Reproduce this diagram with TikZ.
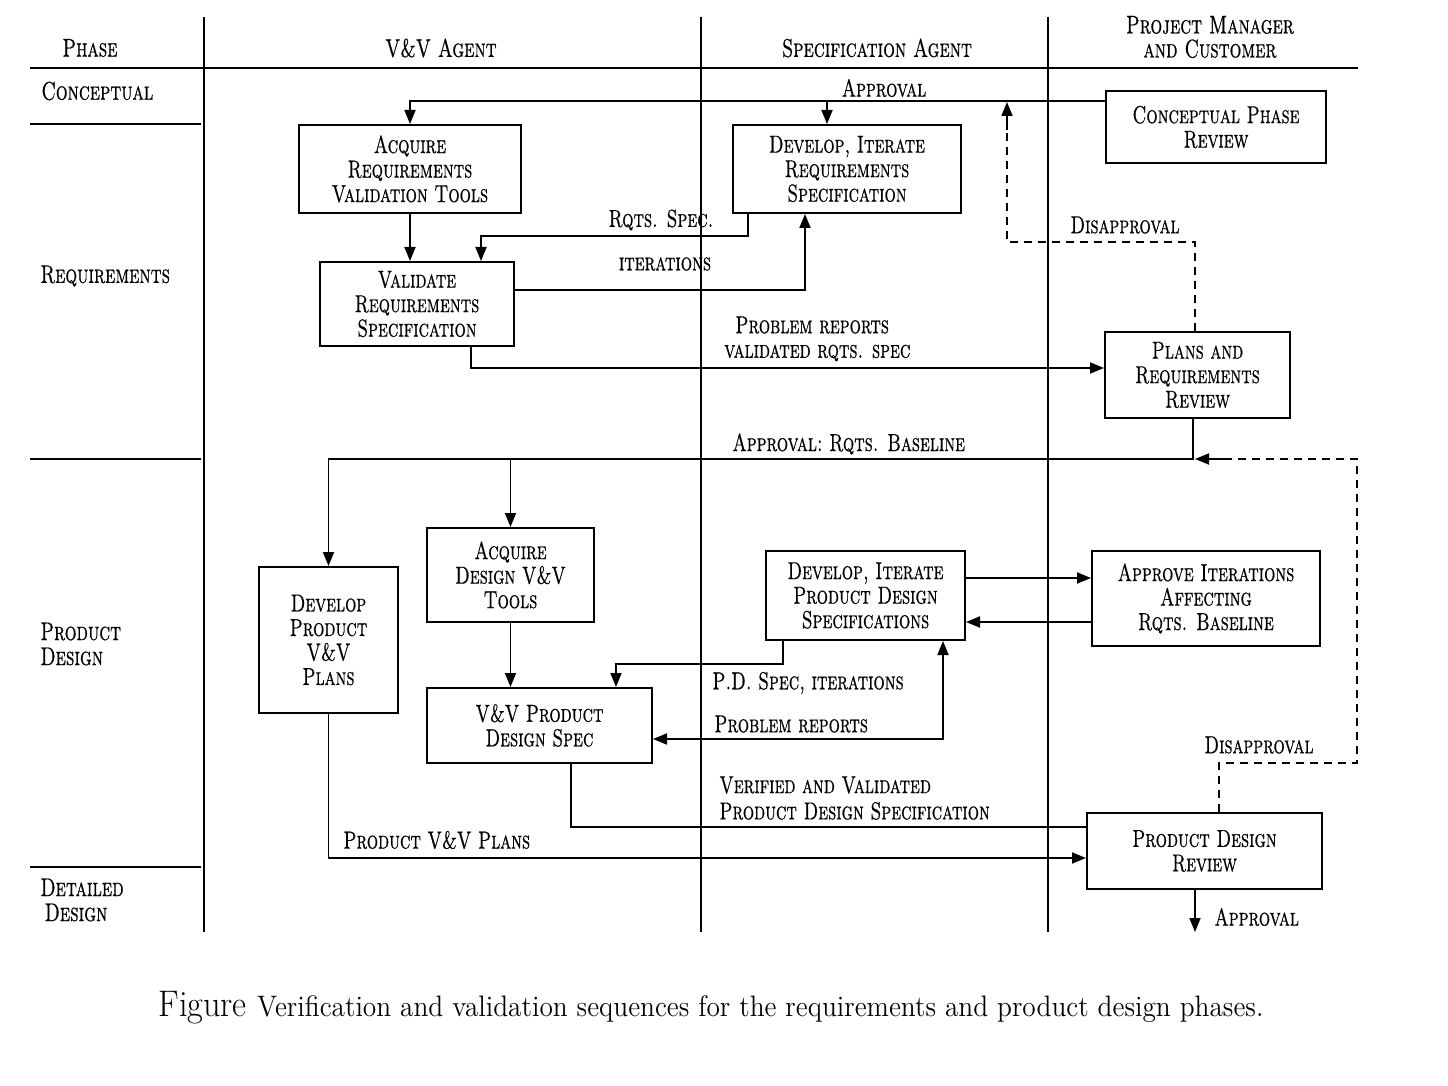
\documentclass[tikz,border=0pt]{standalone}
\usepackage{fontspec}
\newfontfamily\dg{lmroman10-regular.otf}[FakeStretch=0.72, FakeBold=0.6, SmallCapsFont=lmromancaps10-regular.otf, SmallCapsFeatures={FakeStretch=0.72, FakeBold=0.6}]
\usetikzlibrary{arrows.meta}
\tikzset{
  grid/.style={line width=1pt},
  box/.style={draw, line width=1pt, inner sep=0pt, align=center, font={\dg\fontsize{12.3}{12.25}\selectfont\scshape}},
  lbl/.style={inner sep=0pt, font={\dg\fontsize{12.3}{12.25}\selectfont\scshape}},
  hdr/.style={inner sep=0pt, align=center, font={\dg\fontsize{12.8}{12}\selectfont\scshape}},
  phs/.style={inner sep=0pt, align=left, anchor=west, font={\dg\fontsize{12.8}{12.5}\selectfont\scshape}},
  con/.style={line width=0.9pt},
  arr/.style={con, -{Triangle[length=7pt,width=5.5pt]}},
  barr/.style={con, {Triangle[length=7pt,width=5.5pt]}-{Triangle[length=7pt,width=5.5pt]}},
  dsh/.style={con, dash pattern=on 4pt off 3pt},
}
\begin{document}
\begin{tikzpicture}[x=0.5pt,y=-0.5pt]
\useasboundingbox (0,0) rectangle (1448,1086);
% grid
\draw[grid] (204,17) -- (204,932);
\draw[grid] (701,17) -- (701,932);
\draw[grid] (1048,17) -- (1048,932);
\draw[grid] (30,68) -- (1358,68);
\draw[grid] (30,124) -- (201,124);
\draw[grid] (30,459) -- (201,459);
\draw[grid] (30,867) -- (201,867);
% headers
\node[hdr] (hphase) at (90,48) {Phase};
\node[hdr] (hvv) at (441,48) {V\&V Agent};
\node[hdr] (hspec) at (877,48) {Specification Agent};
\node[hdr] (hpm) at (1210,37) {Project Manager\\and Customer};
\node[phs] (pcon) at (41,91) {Conceptual};
\node[phs] (preq) at (40,276) {Requirements};
\node[phs] (ppd) at (40,644) {Product\\Design};
\node[phs] (pdd) at (40,900) {Detailed\\\,Design};
% boxes
\node[box, minimum width=111pt, minimum height=44pt] (acq) at (410,169) {Acquire\\Requirements\\Validation Tools};
\node[box, minimum width=114pt, minimum height=44pt] (devreq) at (847,169) {Develop, Iterate\\Requirements\\Specification};
\node[box, minimum width=110pt, minimum height=36pt] (cpr) at (1216,127) {Conceptual Phase\\Review};
\node[box, minimum width=97pt, minimum height=42pt] (val) at (417,304) {Validate\\Requirements\\Specification};
\node[box, minimum width=92.5pt, minimum height=43pt] (prr) at (1197.5,375) {Plans and\\Requirements\\Review};
\node[box, minimum width=69.5pt, minimum height=73pt] (dpvv) at (328.5,640) {Develop\\Product\\V\&V\\Plans};
\node[box, minimum width=83.5pt, minimum height=47pt] (adt) at (510.5,575) {Acquire\\Design V\&V\\Tools};
\node[box, minimum width=99.5pt, minimum height=44.5pt] (dpd) at (865.5,595.5) {Develop, Iterate\\Product Design\\Specifications};
\node[box, minimum width=114pt, minimum height=47.5pt] (aia) at (1206,598.5) {Approve Iterations\\Affecting\\Rqts. Baseline};
\node[box, minimum width=112.5pt, minimum height=37.5pt] (vvp) at (539.5,725.5) {V\&V Product\\Design Spec};
\node[box, minimum width=117.5pt, minimum height=38pt] (pdr) at (1204.5,851) {Product Design\\Review};
\coordinate (append) at (1195,932);
% connectors
\draw[arr] (cpr.west |- 0,101) -| (acq.north);
\draw[arr] (827,101) -- (devreq.north -| 827,0);
\draw[dsh] (prr.north -| 1195,0) |- (1007,242) -- (1007,112);
\draw[arr] (1007,130) -- (1007,102);
\draw[arr] (acq.south) -- (val.north -| acq.south);
\draw[arr] (devreq.south -| 748,0) |- (481,236) -- (val.north -| 481,0);
\draw[arr] (val.east |- 0,290) -| (devreq.south -| 805,0);
\draw[arr] (val.south -| 471,0) |- (prr.west |- 0,368);
\draw[arr] (prr.south -| 1193,0) -- (1193,459) -| (dpvv.north);
\draw[arr] (adt.north |- 0,459) -- (adt.north);
\draw[dsh] (pdr.north -| 1219,0) |- (1357,763) |- (1215,459);
\draw[arr] (1230,459) -- (1195,459);
\draw[arr] (adt.south) -- (vvp.north -| adt.south);
\draw[arr] (dpd.south -| 783,0) |- (616,664) -- (vvp.north -| 616,0);
\draw[arr] (dpd.east |- 0,578) -- (aia.west |- 0,578);
\draw[arr] (aia.west |- 0,622) -- (dpd.east |- 0,622);
\draw[barr] (vvp.east |- 0,739) -| (dpd.south -| 943,0);
\draw[con] (vvp.south -| 571,0) |- (pdr.west |- 0,827);
\draw[arr] (dpvv.south) |- (pdr.west |- 0,858);
\draw[arr] (pdr.south -| append) -- (append);
% labels
\node[lbl] (lapp1) at (884,88) {Approval};
\node[lbl] (ldis1) at (1125,225) {Disapproval};
\node[lbl] (lrs) at (661,220) {Rqts. Spec.};
\node[lbl] (lit) at (665,264) {iterations};
\node[lbl, anchor=west] (lpr1) at (735,325) {Problem reports};
\node[lbl, anchor=west] (lvr) at (724,353) {validated rqts. spec};
\node[lbl, anchor=west] (lab) at (732,444) {Approval:\ Rqts. Baseline};
\node[lbl, anchor=west] (lpds) at (712,683) {P.D. Spec, iterations};
\node[lbl, anchor=west] (lpr2) at (714,724) {Problem reports};
\node[lbl] (ldis2) at (1259,745) {Disapproval};
\node[lbl, anchor=west] (lvv) at (719,785) {Verified and Validated};
\node[lbl, anchor=west] (lpdsp) at (719,811) {Product Design Specification};
\node[lbl, anchor=west] (lpvv) at (343,840) {Product V\&V Plans};
\node[lbl, anchor=west] (lapp2) at (1214,917) {Approval};
% caption
\node[inner sep=0pt] (cap) at (711,1008) {\scalebox{0.925}[1]{\fontsize{18.5}{20}\selectfont Figure\ \fontsize{14.8}{17}\selectfont Verification and validation sequences for the requirements and product design phases.}};
\end{tikzpicture}
\end{document}
